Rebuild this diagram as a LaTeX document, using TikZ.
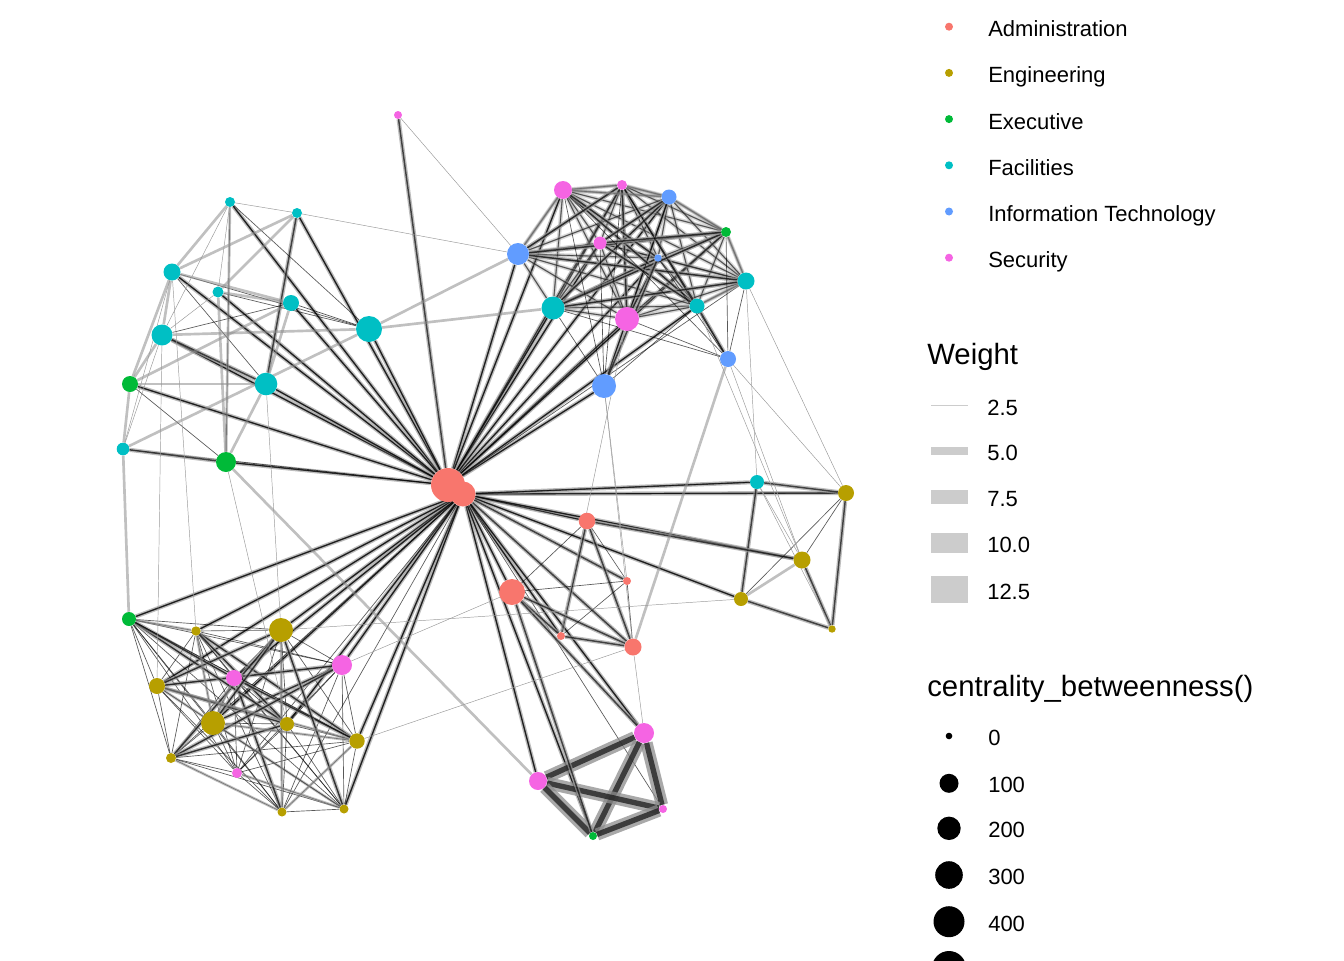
\documentclass[tikz,border=0pt]{standalone}
\usepackage{fontspec}
\setmainfont{Liberation Sans}
\usetikzlibrary{backgrounds}
\definecolor{admc}{HTML}{F8766D}
\definecolor{engc}{HTML}{B79F00}
\definecolor{exc}{HTML}{00BA38}
\definecolor{facc}{HTML}{00BFC4}
\definecolor{itc}{HTML}{619CFF}
\definecolor{secc}{HTML}{F564E3}
\def\trset{s2,s3,i2,x4,f11,f12,i3,s4,i1,f10,s5}
\def\blset{x3,e5,e6,e7,e8,e9,e10,e11,e12,e13,s6,s7,s8}
\def\brset{s9,s10,s11,x5}
\tikzset{
  vtx/.style={circle,inner sep=0pt,minimum size=#1*1.5pt},
  adm/.style={vtx=#1,fill=admc},
  eng/.style={vtx=#1,fill=engc},
  exe/.style={vtx=#1,fill=exc},
  fac/.style={vtx=#1,fill=facc},
  itd/.style={vtx=#1,fill=itc},
  sec/.style={vtx=#1,fill=secc},
  fn/.style={draw=black!40,line width=.35pt},
  lt/.style={draw=black,opacity=.65,line width=.5pt},
  gr/.style={draw=black!45,opacity=.55,line width=2pt},
  hv/.style={draw=black!40,double=black,double distance=1.1pt,line width=1pt,opacity=.65},
  tk/.style={draw=black!45,double=black!90,double distance=4pt,line width=2.6pt,opacity=.75},
  lbl/.style={inner sep=0pt,anchor=base west,font=\fontsize{16.5}{19}\selectfont},
  ttl/.style={inner sep=0pt,anchor=base west,font=\fontsize{22}{26}\selectfont}
}
\begin{document}
\begin{tikzpicture}[x=.75pt,y=-.75pt]
\useasboundingbox (0,0) rectangle (1344,960);
\node[adm=17] (a1) at (448,485) {};
\node[adm=12.5] (a2) at (463,494) {};
\node[adm=8.3] (a3) at (587,521) {};
\node[adm=13] (a4) at (512,592) {};
\node[adm=4] (a5) at (627,581) {};
\node[adm=4] (a6) at (561,636) {};
\node[adm=8.5] (a7) at (633,647) {};
\node[eng=8] (e1) at (846,493) {};
\node[eng=8.5] (e2) at (802,560) {};
\node[eng=7] (e3) at (741,599) {};
\node[eng=3.7] (e4) at (832,629) {};
\node[eng=4.7] (e5) at (196,631) {};
\node[eng=12] (e6) at (281,630) {};
\node[eng=8] (e7) at (157,686) {};
\node[eng=12] (e8) at (213,723) {};
\node[eng=7] (e9) at (287,724) {};
\node[eng=7.7] (e10) at (357,741) {};
\node[eng=5] (e11) at (171,758) {};
\node[eng=4.5] (e12) at (282,812) {};
\node[eng=4.5] (e13) at (344,809) {};
\node[exe=8] (x1) at (130,384) {};
\node[exe=10] (x2) at (226,462) {};
\node[exe=7] (x3) at (129,619) {};
\node[exe=5] (x4) at (726,232) {};
\node[exe=4] (x5) at (593,836) {};
\node[fac=5] (f1) at (230,202) {};
\node[fac=5] (f2) at (297,213) {};
\node[fac=8.5] (f3) at (172,272) {};
\node[fac=5.5] (f4) at (218,292) {};
\node[fac=8] (f5) at (291,303) {};
\node[fac=10.5] (f6) at (162,335) {};
\node[fac=13] (f7) at (369,329) {};
\node[fac=11.3] (f8) at (266,384) {};
\node[fac=6.3] (f9) at (123,449) {};
\node[fac=11.5] (f10) at (553,308) {};
\node[fac=8.5] (f11) at (746,281) {};
\node[fac=7.5] (f12) at (697,306) {};
\node[fac=7] (f13) at (757,482) {};
\node[itd=11] (i1) at (518,254) {};
\node[itd=7.5] (i2) at (669,197) {};
\node[itd=3.7] (i3) at (658,258) {};
\node[itd=8] (i4) at (728,359) {};
\node[itd=12] (i5) at (604,386) {};
\node[sec=4] (s1) at (398,115) {};
\node[sec=9] (s2) at (563,190) {};
\node[sec=5] (s3) at (622,185) {};
\node[sec=6.5] (s4) at (600,243) {};
\node[sec=12] (s5) at (627,319) {};
\node[sec=10] (s6) at (342,665) {};
\node[sec=8] (s7) at (234,678) {};
\node[sec=5] (s8) at (237,773) {};
\node[sec=10] (s9) at (644,733) {};
\node[sec=9] (s10) at (538,781) {};
\node[sec=4] (s11) at (663,809) {};
\begin{scope}[on background layer]
\foreach \n in {s1,f1,f2,f3,f4,f5,f6,f7,f8,x1,x2,i1,s2,s3,s4,f10,s5,i5,i3,i2,f12,x4} \draw[hv] (a1)--(\n);
\foreach \n in {f9,f12,x4,f1,f2,f3,f4,f5,f6,f7,f8,x1,x2,i1,s2,s3,s4,f10,s5,i5,i3,i2,f11} \draw[lt] (a1)--(\n);
\foreach \n in {e1,f13,a3,e2,e3,a5,a7,a6,a4,s9,s10,x3,e5,e6,e7,e8,e9,e10,s6,s7,e13,x5} \draw[hv] (a2)--(\n);
\foreach \n in {x5,s11,e11,s8,e12,s9,s10,e5,e6,e8,e9,e10,s6,s7,x3,a4,a6,a3,e7,e1,f13,e2,e3,e13} \draw[lt] (a2)--(\n);
\foreach \u [count=\ka] in \trset {\foreach \v [count=\kb] in \trset {\ifnum\ka<\kb \draw[lt] (\u)--(\v); \draw[hv,opacity=.35] (\u)--(\v);\fi}}
\foreach \u [count=\ka] in \blset {\foreach \v [count=\kb] in \blset {\ifnum\ka<\kb \draw[lt] (\u)--(\v);\fi}}
\foreach \u [count=\ka] in \brset {\foreach \v [count=\kb] in \brset {\ifnum\ka<\kb \draw[tk] (\u)--(\v);\fi}}
\foreach \u/\v in {s3/s5,i2/s5,i3/f10,s2/f12,i1/x4,i1/f11,i3/s5,s3/f12,i2/f10,x4/f10,f11/f10,s2/i3,s4/f12,i4/f12,i5/s5,i5/i3,s3/i1,i2/s4,x4/s4,
  f2/f8,f6/f8,f9/x2,e5/e10,e7/e9,s7/e12,e8/s6,e6/e11,e7/s6,x3/e9,e5/e9,e7/e6,s7/e10,e8/e6,e11/s6,x3/s7,e6/e13,e9/e11,
  a3/a6,a3/a7,a4/a7,a4/a6,a6/a7,f13/e3,f13/e1,e1/e4,e2/e4,e3/e4,a3/e2,a4/x5,a4/s9} \draw[hv] (\u)--(\v);
\foreach \u/\v in {f1/f7,f3/f7,f3/f8,f4/f7,f5/f6,x1/x2,f1/x2,f5/f7,
  i4/f11,i4/s5,i4/f10,i4/i3,i4/x4,i4/s3,i4/s2,i5/f10,i5/s4,i5/s2,i5/s3,i5/i2,i5/f12,
  a3/a5,a4/a5,a5/a6,a5/a7,a3/a4,e1/e2,e1/e3,x3/e10,e8/e13} \draw[lt] (\u)--(\v);
\foreach \u/\v in {f1/x2,f1/f3,f2/f3,f2/f4,f3/f5,f3/f6,f3/x1,f4/f5,f6/f7,f5/f8,f6/x1,f7/f9,x1/f8,f9/x3,x2/f8,f4/x2,f5/x1,x1/f9,
  s2/i2,s2/s3,s3/i2,i2/x4,x4/f11,f11/f12,s2/i1,f7/i1,f7/f10,x2/s10,a7/i4,e2/e3,
  e6/e12,e5/e8,s7/e8,e7/e10,e8/e10,e11/e12,s8/e13,e7/e13,x3/e5,e12/e10} \draw[gr] (\u)--(\v);
\foreach \u/\v in {f1/f2,f1/f6,f1/f4,f2/i1,s1/i1,f4/f6,f3/f9,f6/f9,a7/s9,a7/e10,e3/e6,a4/s6,i5/a7,f12/e2,f11/e1,i4/e1,i4/e2,f13/e2,
  f6/e7,f8/e6,f3/e5,i5/a5,s5/a6,f13/e4,f11/f13,x2/e9} \draw[fn] (\u)--(\v);
\end{scope}
\foreach \lab/\col [count=\k] in {Administration/admc,Engineering/engc,Executive/exc,Facilities/facc,Information Technology/itc,Security/secc}{
  \node[vtx=4,fill=\col] (kd\k) at (949,{26.7+46.2*(\k-1)}) {};
  \node[lbl] (kl\k) at (988,{36.7+46.2*(\k-1)}) {\lab};
}
\node[ttl] (wt) at (927,364.5) {Weight};
\foreach \val/\hh/\yy [count=\k] in {2.5/1/405.3,5.0/8.3/450.7,7.5/13.7/496.7,10.0/20/542.7,12.5/26.7/589.3}{
  \node[fill=black!20,inner sep=0pt,minimum width=37*.75pt,minimum height=\hh*.75pt] (wk\k) at (949.5,\yy) {};
  \node[lbl] (wl\k) at (987,\yy+10) {\val};
}
\node[ttl] (ct) at (927,696.7) {centrality\_betweenness()};
\foreach \val/\rr/\yy [count=\k] in {0/3.3/736,100/9.5/783.3,200/11.7/828.3,300/13.8/875,400/15.5/921.7}{
  \node[vtx=\rr,fill=black] (ck\k) at (949,\yy) {};
  \node[lbl] (cl\k) at (988,\yy+9.5) {\val};
}
\node[vtx=17,fill=black] (ck6) at (949,968) {};
\end{tikzpicture}
\end{document}
